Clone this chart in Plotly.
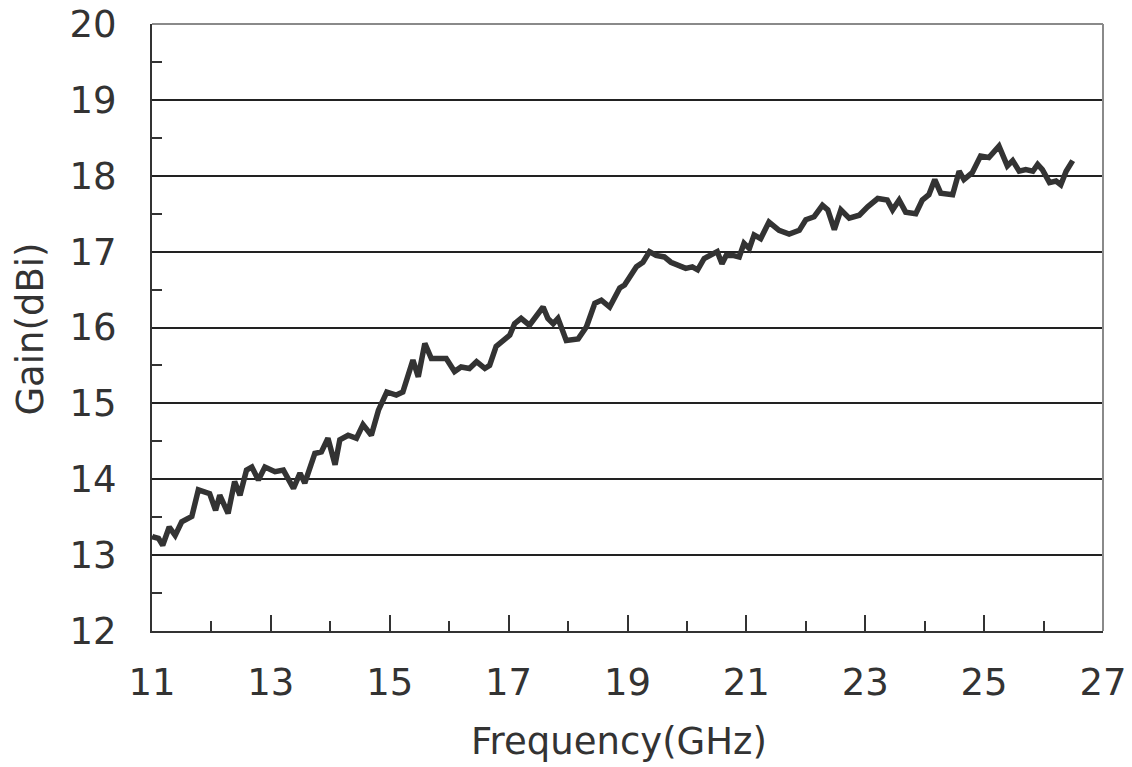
import plotly.graph_objects as go

freq_ghz = [11.00, 11.02, 11.11, 11.18, 11.29, 11.39, 11.50, 11.67, 11.78, 11.97, 12.07, 12.14, 12.28,
            12.39, 12.48, 12.59, 12.68, 12.79, 12.90, 13.07, 13.21, 13.38, 13.49, 13.57, 13.74,
            13.85, 13.96, 14.08, 14.16, 14.30, 14.44, 14.55, 14.69, 14.81, 14.95, 15.11, 15.22,
            15.39, 15.48, 15.59, 15.70, 15.95, 16.09, 16.20, 16.34, 16.46, 16.60, 16.68, 16.79,
            16.90, 17.02, 17.10, 17.21, 17.35, 17.47, 17.58, 17.66, 17.75, 17.83, 17.97, 18.17,
            18.31, 18.45, 18.56, 18.70, 18.87, 18.95, 19.06, 19.15, 19.26, 19.37, 19.48, 19.62,
            19.73, 19.87, 19.98, 20.09, 20.18, 20.29, 20.43, 20.51, 20.59, 20.66, 20.77, 20.88,
            20.96, 21.05, 21.13, 21.24, 21.38, 21.55, 21.72, 21.89, 22.00, 22.14, 22.28, 22.37,
            22.48, 22.59, 22.73, 22.90, 23.04, 23.21, 23.37, 23.46, 23.57, 23.68, 23.85, 23.96,
            24.07, 24.17, 24.27, 24.47, 24.58, 24.66, 24.80, 24.94, 25.08, 25.25, 25.39, 25.48,
            25.59, 25.70, 25.82, 25.90, 25.98, 26.10, 26.21, 26.29, 26.38, 26.49]
gain_dbi = [13.25, 13.24, 13.22, 13.13, 13.37, 13.26, 13.44, 13.51, 13.86, 13.81, 13.59, 13.79, 13.55,
            13.97, 13.79, 14.12, 14.16, 13.99, 14.16, 14.10, 14.12, 13.88, 14.08, 13.95, 14.34,
            14.36, 14.54, 14.19, 14.52, 14.58, 14.54, 14.72, 14.58, 14.91, 15.15, 15.11, 15.15,
            15.57, 15.35, 15.79, 15.59, 15.59, 15.42, 15.48, 15.46, 15.55, 15.46, 15.50, 15.75,
            15.83, 15.90, 16.05, 16.12, 16.03, 16.16, 16.27, 16.12, 16.05, 16.12, 15.83, 15.85,
            16.01, 16.32, 16.36, 16.27, 16.52, 16.56, 16.71, 16.80, 16.86, 17.00, 16.95, 16.93,
            16.86, 16.82, 16.78, 16.80, 16.76, 16.91, 16.97, 17.00, 16.84, 16.95, 16.95, 16.93,
            17.11, 17.04, 17.22, 17.17, 17.39, 17.28, 17.23, 17.28, 17.42, 17.46, 17.61, 17.55,
            17.29, 17.55, 17.44, 17.48, 17.59, 17.70, 17.68, 17.55, 17.68, 17.52, 17.50, 17.68,
            17.75, 17.95, 17.77, 17.75, 18.06, 17.95, 18.04, 18.26, 18.24, 18.39, 18.13, 18.20,
            18.06, 18.08, 18.06, 18.15, 18.08, 17.91, 17.93, 17.88, 18.06, 18.20]

x_major_ticks = [11, 13, 15, 17, 19, 21, 23, 25, 27]
x_minor_ticks = [12, 14, 16, 18, 20, 22, 24, 26]
y_major_ticks = [12, 13, 14, 15, 16, 17, 18, 19, 20]
y_minor_ticks = [12.5, 13.5, 14.5, 15.5, 16.5, 17.5, 18.5, 19.5]

FONT = "DejaVu Sans"
TXT = "#333333"

fig = go.Figure()
fig.add_trace(go.Scatter(x=freq_ghz, y=gain_dbi, mode="lines",
                         line=dict(color="#333333", width=5.5), showlegend=False))

fig.update_layout(
    width=1132, height=767,
    margin=dict(l=152, r=29, t=24, b=136, autoexpand=False),
    paper_bgcolor="white", plot_bgcolor="white",
    font=dict(family=FONT, size=37, color=TXT),
    xaxis=dict(
        range=[11, 27], tickvals=x_major_ticks, ticktext=[str(v) for v in x_major_ticks],
        ticks="inside", ticklen=16, tickwidth=2, tickcolor="#333333",
        showgrid=False, zeroline=False, showline=True, linecolor="#333333", linewidth=2,
        ticklabelstandoff=18, automargin=False, ticklabeloverflow="allow",
        minor=dict(tickvals=x_minor_ticks, ticks="inside", ticklen=10, tickwidth=2,
                   tickcolor="#333333", showgrid=False),
        tickfont=dict(family=FONT, size=37, color=TXT),
    ),
    yaxis=dict(
        range=[12, 20], tickvals=y_major_ticks, ticktext=[str(v) for v in y_major_ticks],
        ticks="", showgrid=True, gridcolor="#222222", gridwidth=1.5,
        zeroline=False, showline=True, linecolor="#333333", linewidth=2,
        ticklabelstandoff=26, automargin=False, ticklabeloverflow="allow",
        minor=dict(tickvals=y_minor_ticks, ticks="inside", ticklen=10, tickwidth=2,
                   tickcolor="#333333", showgrid=False),
        tickfont=dict(family=FONT, size=37, color=TXT),
    ),
    annotations=[
        dict(text="Frequency(GHz)", xref="paper", yref="paper", x=0.491, y=-0.182,
             xanchor="center", yanchor="middle", showarrow=False,
             font=dict(family=FONT, size=37, color=TXT)),
        dict(text="Gain(dBi)", xref="paper", yref="paper", x=-0.128, y=0.497,
             xanchor="center", yanchor="middle", showarrow=False, textangle=-90,
             font=dict(family=FONT, size=37, color=TXT)),
    ],
    shapes=[
        dict(type="line", xref="paper", yref="paper", x0=0, x1=1, y0=1, y1=1,
             line=dict(color="#8a8a8a", width=2)),
        dict(type="line", xref="paper", yref="paper", x0=1, x1=1, y0=0, y1=1,
             line=dict(color="#8a8a8a", width=2)),
    ],
)

fig.write_html("out.html", config={"displayModeBar": False},
               post_script="document.body.style.margin='0';")
